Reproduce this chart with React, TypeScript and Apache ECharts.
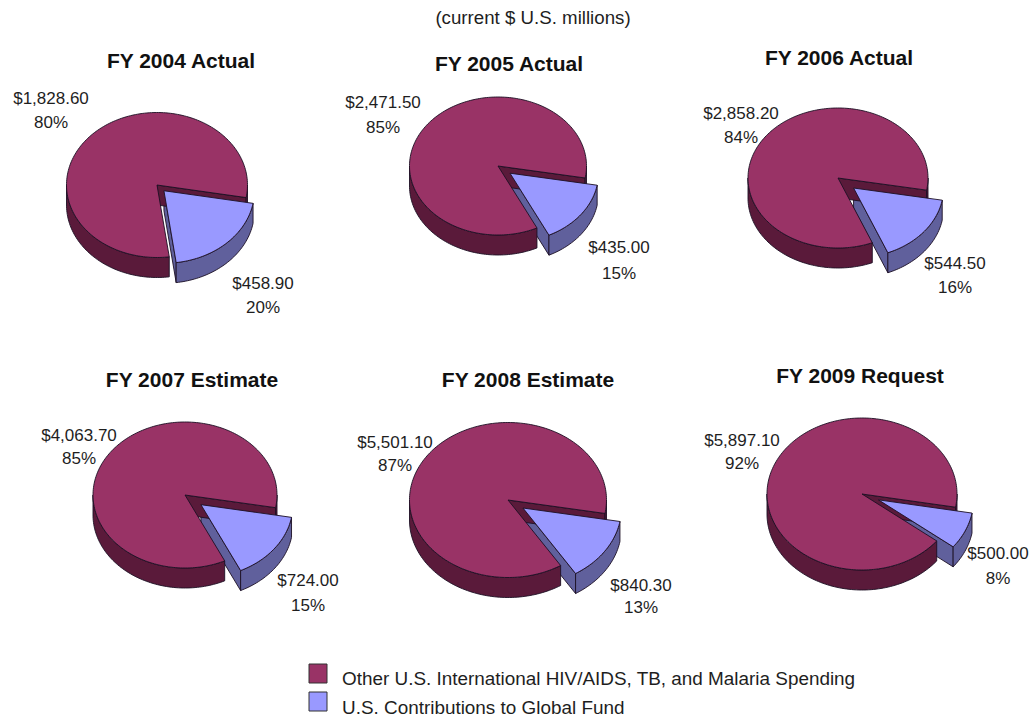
import React, { useEffect, useRef } from "react";
import * as echarts from "echarts";

// ---------- data ----------
const CATEGORIES = [
  "FY 2004 Actual",
  "FY 2005 Actual",
  "FY 2006 Actual",
  "FY 2007 Estimate",
  "FY 2008 Estimate",
  "FY 2009 Request",
];
const OTHER_SPENDING = [1828.6, 2471.5, 2858.2, 4063.7, 5501.1, 5897.1];
const GLOBAL_FUND = [458.9, 435.0, 544.5, 724.0, 840.3, 500.0];
const SERIES_NAMES = [
  "Other U.S. International HIV/AIDS, TB, and Malaria Spending",
  "U.S. Contributions to Global Fund",
];
const SUBTITLE = "(current $ U.S. millions)";

// ---------- layout (positions / sizes) ----------
const PIE_CENTERS = [
  [157, 185],
  [498, 166],
  [838, 178],
  [185, 495],
  [508, 500],
  [862, 494],
];
const PIE_RADII = [
  [90.5, 72.5],
  [88.5, 69],
  [90, 70],
  [92, 73],
  [98.5, 77.5],
  [95, 76],
];
const EXPLODE = [10, 15, 20, 20, 18, 18];
const DEPTH = 20;
const START_DEG = 10;
const TITLE_POS = [
  [181, 60],
  [509, 63],
  [839, 57],
  [192, 379],
  [528, 379],
  [860, 375],
];
const OTHER_LABEL_POS = [
  [51, 98, 122],
  [383, 102, 127],
  [741, 113, 137],
  [79, 435, 458],
  [395, 442, 465],
  [742, 440, 463],
];
const GF_LABEL_POS = [
  [263, 283, 307],
  [619, 247, 273],
  [955, 263, 287],
  [308, 580, 605],
  [641, 585, 607],
  [998, 553, 578],
];

// ---------- styles ----------
const FONT = '"Liberation Sans", Arial, Helvetica, sans-serif';
const RED_TOP = "#993366";
const RED_SIDE = "#5a1a3a";
const BLUE_TOP = "#9999ff";
const BLUE_SIDE = "#60609c";
const OUTLINE = "#1c1024";

function fmtMoney(v: number): string {
  const parts = v.toFixed(2).split(".");
  const int = parts[0].replace(/\B(?=(\d{3})+(?!\d))/g, ",");
  return "$" + int + "." + parts[1];
}

function extrudedSector(
  cx: number,
  cy: number,
  rx: number,
  ry: number,
  a1: number,
  a2: number,
  depth: number,
  top: string,
  side: string
) {
  const pt = (a: number, dy = 0) => [cx + rx * Math.cos(a), cy + ry * Math.sin(a) + dy];
  const arc = (lo: number, hi: number, dy: number) => {
    const n = Math.max(6, Math.ceil((hi - lo) / (Math.PI / 120)));
    const pts: number[][] = [];
    for (let k = 0; k <= n; k++) pts.push(pt(lo + ((hi - lo) * k) / n, dy));
    return pts;
  };
  const lineStyle = { stroke: OUTLINE, lineWidth: 0.9, lineJoin: "round" };
  const apex = [cx, cy];
  const apexB = [cx, cy + depth];
  const startFace: any[] = [];
  const endFace: any[] = [];
  const wall: any[] = [];
  if (Math.cos(a1) < 0) {
    startFace.push({
      type: "polygon",
      shape: { points: [apex, pt(a1), pt(a1, depth), apexB] },
      style: { fill: side, ...lineStyle },
    });
  }
  if (Math.cos(a2) > 0) {
    endFace.push({
      type: "polygon",
      shape: { points: [apex, pt(a2), pt(a2, depth), apexB] },
      style: { fill: side, ...lineStyle },
    });
  }
  for (const k of [-2 * Math.PI, 0, 2 * Math.PI]) {
    const lo = Math.max(a1, k);
    const hi = Math.min(a2, k + Math.PI);
    if (hi > lo + 1e-6) {
      const topArc = arc(lo, hi, 0);
      const botArc = arc(lo, hi, depth).reverse();
      wall.push({
        type: "polygon",
        shape: { points: topArc.concat(botArc) },
        style: { fill: side, ...lineStyle },
      });
    }
  }
  const topFace = [
    {
      type: "polygon",
      shape: { points: [apex].concat(arc(a1, a2, 0)) },
      style: { fill: top, ...lineStyle },
    },
  ];
  return { startFace, endFace, wall, topFace };
}

export default function App() {
  const ref = useRef<HTMLDivElement>(null);

  useEffect(() => {
    document.body.style.margin = "0";
    if (!ref.current) return;
    const chart = echarts.init(ref.current, null, { renderer: "svg" });

    const data = CATEGORIES.map((c, i) => [i, OTHER_SPENDING[i], GLOBAL_FUND[i]]);

    const renderItem = (params: any, api: any) => {
      const i = params.dataIndex;
      const other = api.value(1) as number;
      const gf = api.value(2) as number;
      const total = other + gf;
      const [cx, cy] = PIE_CENTERS[i];
      const [rx, ry] = PIE_RADII[i];
      const a0 = (START_DEG * Math.PI) / 180;
      const span = (2 * Math.PI * gf) / total;
      const mid = a0 + span / 2;
      const e = EXPLODE[i];
      const bx = cx + e * Math.cos(mid);
      const by = cy + e * 0.8 * Math.sin(mid);

      const red = extrudedSector(cx, cy, rx, ry, a0 + span, a0 + 2 * Math.PI, DEPTH, RED_TOP, RED_SIDE);
      const blue = extrudedSector(bx, by, rx, ry, a0, a0 + span, DEPTH, BLUE_TOP, BLUE_SIDE);

      const txt = (s: string, x: number, y: number) => ({
        type: "text",
        x,
        y,
        style: {
          text: s,
          align: "center",
          verticalAlign: "middle",
          font: `17px ${FONT}`,
          fill: "#1e1e1e",
        },
      });
      const oPct = Math.round((other / total) * 100) + "%";
      const gPct = Math.round((gf / total) * 100) + "%";
      const ol = OTHER_LABEL_POS[i];
      const gl = GF_LABEL_POS[i];
      return {
        type: "group",
        children: [
          ...blue.startFace,
          ...blue.endFace,
          ...red.startFace,
          ...red.endFace,
          ...red.wall,
          ...red.topFace,
          ...blue.wall,
          ...blue.topFace,
          txt(fmtMoney(other), ol[0], ol[1]),
          txt(oPct, ol[0], ol[2]),
          txt(fmtMoney(gf), gl[0], gl[1]),
          txt(gPct, gl[0], gl[2]),
        ],
      };
    };

    const graphics: any[] = [];
    graphics.push({
      type: "text",
      x: 533,
      y: 17,
      style: {
        text: SUBTITLE,
        align: "center",
        verticalAlign: "middle",
        font: `18.7px ${FONT}`,
        fill: "#1e1e1e",
      },
    });
    CATEGORIES.forEach((c, i) => {
      graphics.push({
        type: "text",
        x: TITLE_POS[i][0],
        y: TITLE_POS[i][1],
        style: {
          text: c,
          align: "center",
          verticalAlign: "middle",
          font: `bold 21px ${FONT}`,
          fill: "#111",
        },
      });
    });
    const legendColors = [RED_TOP, BLUE_TOP];
    SERIES_NAMES.forEach((n, i) => {
      graphics.push({
        type: "rect",
        shape: { x: 309, y: 664 + i * 28, width: 18, height: 19 },
        style: { fill: legendColors[i], stroke: "#333", lineWidth: 1 },
      });
      graphics.push({
        type: "text",
        x: 342,
        y: 678 + i * 29,
        style: {
          text: n,
          align: "left",
          verticalAlign: "middle",
          font: `18.9px ${FONT}`,
          fill: "#1e1e1e",
        },
      });
    });

    chart.setOption({
      animation: false,
      backgroundColor: "#ffffff",
      graphic: graphics,
      series: [
        {
          type: "custom",
          coordinateSystem: "none",
          renderItem,
          data,
          silent: true,
        },
      ],
    });

    return () => chart.dispose();
  }, []);

  return <div ref={ref} style={{ width: 1034, height: 724 }} />;
}
